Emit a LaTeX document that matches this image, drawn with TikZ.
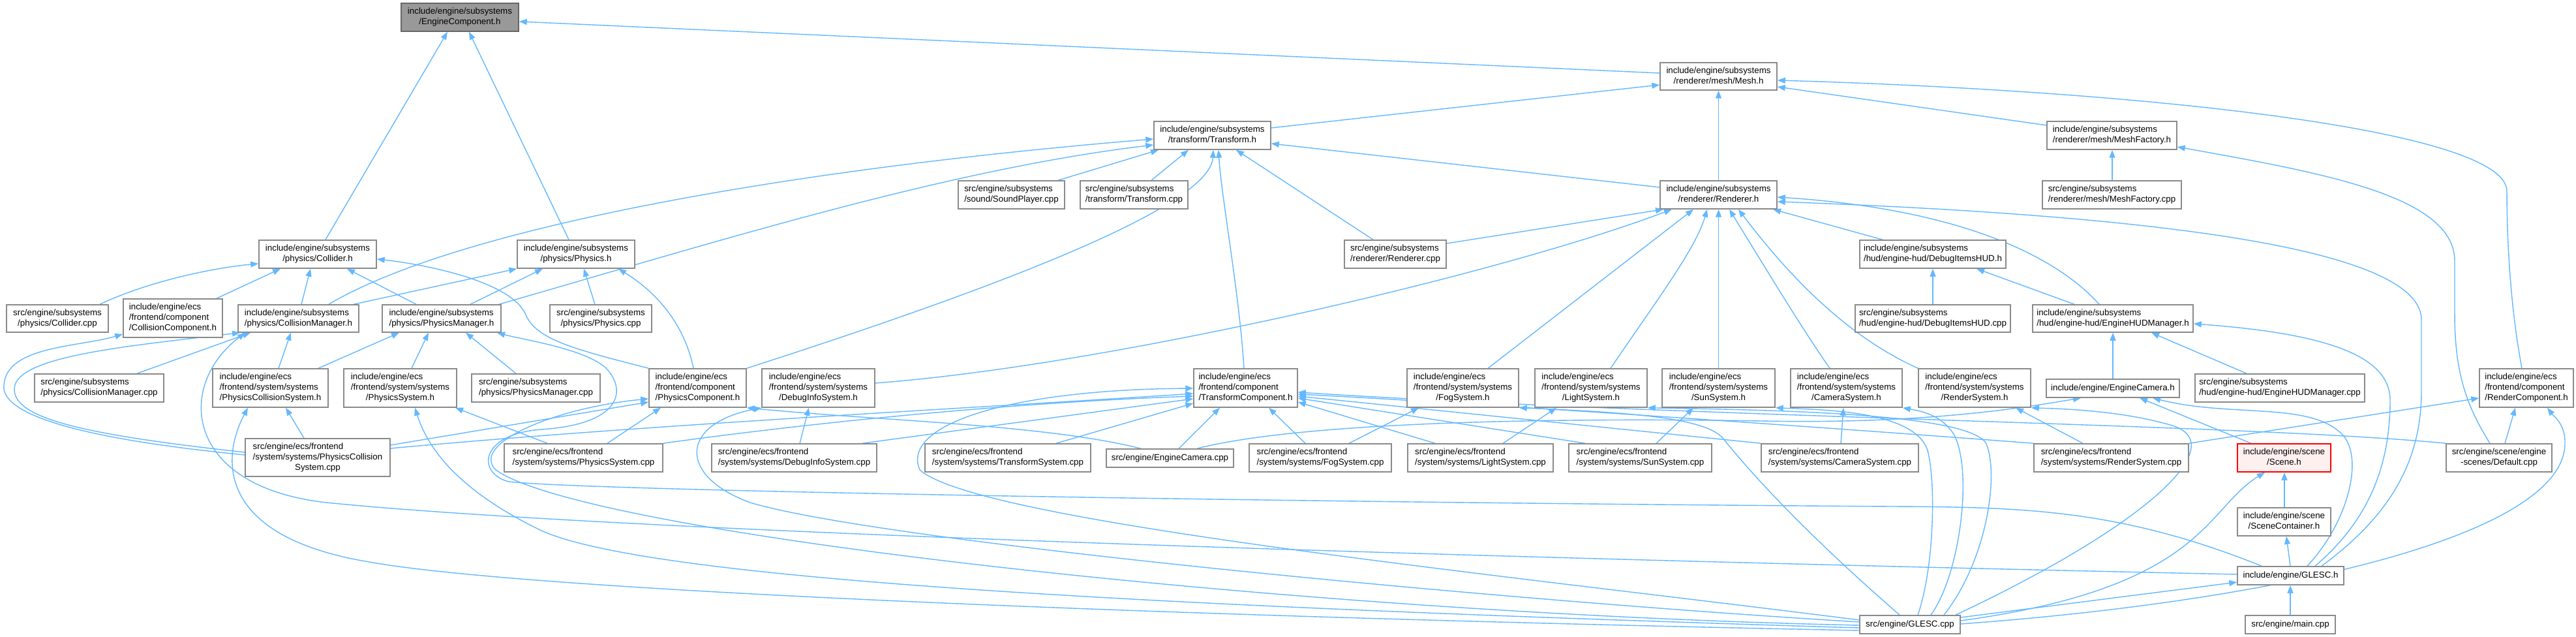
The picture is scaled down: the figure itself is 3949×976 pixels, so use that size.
\documentclass[tikz,border=0pt]{standalone}
\usepackage{fontspec}
\setmainfont{Liberation Sans}
\usetikzlibrary{arrows.meta}
\pgfdeclarelayer{background}
\pgfsetlayers{background,main}
\definecolor{edgec}{HTML}{63B8FF}
\definecolor{boxc}{HTML}{8A8A8A}
\newcommand\dl[2]{\begin{tabular}{@{}l@{}}#1\\\multicolumn{1}{@{}c@{}}{#2}\end{tabular}}
\newcommand\nd[7][dbox]{\node[#1,minimum width={#5pt-#3pt},minimum height={#6pt-#4pt}] (#2) at ({(#3+#5)/2},{(#4+#6)/2}) {#7};}
\tikzset{
  dbox/.style={rectangle,draw=boxc,line width=1.5pt,fill=white,inner sep=0pt,text=black,font=\fontsize{13.33}{16}\selectfont},
  ecbox/.style={dbox,draw=black!60,fill=black!40},
  redbox/.style={dbox,draw=red,fill={rgb,255:red,255;green,240;blue,240}},
  dedge/.style={draw=edgec,line width=1.4pt,-{Triangle[length=12pt,width=9pt]}}
}
\begin{document}
\begin{tikzpicture}[x=1pt,y=-1pt]
\useasboundingbox (0,0) rectangle (3949,976);
% ---------------- nodes ----------------
\nd[ecbox]{EC}{615}{5}{795}{48}{\dl{include/engine/subsystems}{/EngineComponent.h}}
\nd{MESH}{2545}{96}{2724}{138}{\dl{include/engine/subsystems}{/renderer/mesh/Mesh.h}}
\nd{TR}{1769}{186}{1948}{229}{\dl{include/engine/subsystems}{/transform/Transform.h}}
\nd{MF}{3138}{186}{3337}{229}{\dl{include/engine/subsystems}{/renderer/mesh/MeshFactory.h}}
\nd{SND}{1469}{277}{1632}{320}{\dl{src/engine/subsystems}{/sound/SoundPlayer.cpp}}
\nd{TRC}{1656}{277}{1821}{320}{\dl{src/engine/subsystems}{/transform/Transform.cpp}}
\nd{REN}{2545}{277}{2724}{320}{\dl{include/engine/subsystems}{/renderer/Renderer.h}}
\nd{MFC}{3131}{277}{3344}{320}{\dl{src/engine/subsystems}{/renderer/mesh/MeshFactory.cpp}}
\nd{COL}{397}{368}{577}{411}{\dl{include/engine/subsystems}{/physics/Collider.h}}
\nd{PHY}{793}{368}{973}{411}{\dl{include/engine/subsystems}{/physics/Physics.h}}
\nd{RENC}{2061}{368}{2217}{411}{\dl{src/engine/subsystems}{/renderer/Renderer.cpp}}
\nd{DIH}{2851}{368}{3075}{411}{\dl{include/engine/subsystems}{/hud/engine-hud/DebugItemsHUD.h}}
\nd{COLC}{10}{467}{166}{509}{\dl{src/engine/subsystems}{/physics/Collider.cpp}}
\nd{CC}{189}{458}{341}{517}{\dl{include/engine/ecs\\/frontend/component}{/CollisionComponent.h}}
\nd{CM}{365}{467}{550}{509}{\dl{include/engine/subsystems}{/physics/CollisionManager.h}}
\nd{PM}{586}{467}{768}{509}{\dl{include/engine/subsystems}{/physics/PhysicsManager.h}}
\nd{PHYC}{843}{467}{999}{509}{\dl{src/engine/subsystems}{/physics/Physics.cpp}}
\nd{DIHC}{2844}{467}{3082}{509}{\dl{src/engine/subsystems}{/hud/engine-hud/DebugItemsHUD.cpp}}
\nd{HUD}{3116}{467}{3362}{509}{\dl{include/engine/subsystems}{/hud/engine-hud/EngineHUDManager.h}}
\nd{CMC}{53}{573}{251}{616}{\dl{src/engine/subsystems}{/physics/CollisionManager.cpp}}
\nd{PCS}{326}{565}{503}{624}{\dl{include/engine/ecs\\/frontend/system/systems}{/PhysicsCollisionSystem.h}}
\nd{PS}{527}{565}{700}{624}{\dl{include/engine/ecs\\/frontend/system/systems}{/PhysicsSystem.h}}
\nd{PMC}{723}{573}{920}{616}{\dl{src/engine/subsystems}{/physics/PhysicsManager.cpp}}
\nd{PCOMP}{995}{565}{1144}{624}{\dl{include/engine/ecs\\/frontend/component}{/PhysicsComponent.h}}
\nd{DIS}{1168}{565}{1341}{624}{\dl{include/engine/ecs\\/frontend/system/systems}{/DebugInfoSystem.h}}
\nd{TCOMP}{1830}{565}{1989}{624}{\dl{include/engine/ecs\\/frontend/component}{/TransformComponent.h}}
\nd{FOG}{2157}{565}{2328}{624}{\dl{include/engine/ecs\\/frontend/system/systems}{/FogSystem.h}}
\nd{LIGHT}{2353}{565}{2525}{624}{\dl{include/engine/ecs\\/frontend/system/systems}{/LightSystem.h}}
\nd{SUN}{2548}{565}{2721}{624}{\dl{include/engine/ecs\\/frontend/system/systems}{/SunSystem.h}}
\nd{CAM}{2745}{565}{2916}{624}{\dl{include/engine/ecs\\/frontend/system/systems}{/CameraSystem.h}}
\nd{RS}{2941}{565}{3113}{624}{\dl{include/engine/ecs\\/frontend/system/systems}{/RenderSystem.h}}
\nd{ECAM}{3137}{581}{3341}{609}{include/engine/EngineCamera.h}
\nd{HUDC}{3365}{573}{3625}{616}{\dl{src/engine/subsystems}{/hud/engine-hud/EngineHUDManager.cpp}}
\nd{RCOMP}{3801}{565}{3945}{624}{\dl{include/engine/ecs\\/frontend/component}{/RenderComponent.h}}
\nd{PCSC}{376}{672}{598}{730}{\dl{src/engine/ecs/frontend\\/system/systems/PhysicsCollision}{System.cpp}}
\nd{PSC}{773}{680}{1016}{723}{\dl{src/engine/ecs/frontend}{/system/systems/PhysicsSystem.cpp}}
\nd{DISC}{1091}{680}{1344}{723}{\dl{src/engine/ecs/frontend}{/system/systems/DebugInfoSystem.cpp}}
\nd{TSC}{1418}{680}{1672}{723}{\dl{src/engine/ecs/frontend}{/system/systems/TransformSystem.cpp}}
\nd{ECAMC}{1696}{688}{1891}{716}{src/engine/EngineCamera.cpp}
\nd{FOGC}{1915}{680}{2133}{723}{\dl{src/engine/ecs/frontend}{/system/systems/FogSystem.cpp}}
\nd{LIGHTC}{2158}{680}{2381}{723}{\dl{src/engine/ecs/frontend}{/system/systems/LightSystem.cpp}}
\nd{SUNC}{2405}{680}{2624}{723}{\dl{src/engine/ecs/frontend}{/system/systems/SunSystem.cpp}}
\nd{CAMC}{2700}{680}{2941}{723}{\dl{src/engine/ecs/frontend}{/system/systems/CameraSystem.cpp}}
\nd{RSC}{3118}{680}{3355}{723}{\dl{src/engine/ecs/frontend}{/system/systems/RenderSystem.cpp}}
\nd[redbox]{SCENE}{3430}{680}{3573}{723}{\dl{include/engine/scene}{/Scene.h}}
\nd{DEF}{3750}{680}{3912}{723}{\dl{src/engine/scene/engine}{-scenes/Default.cpp}}
\nd{SC}{3430}{778}{3573}{821}{\dl{include/engine/scene}{/SceneContainer.h}}
\nd{GLH}{3430}{868}{3593}{896}{include/engine/GLESC.h}
\nd{GLC}{2851}{943}{3005}{971}{src/engine/GLESC.cpp}
\nd{MAIN}{3442}{943}{3580}{971}{src/engine/main.cpp}
% ---------------- edges ----------------
\begin{pgfonlayer}{background}
\fill[white] (0,0) rectangle (3949,976);
% to EngineComponent
\draw[dedge] (COL.north -| 499,0) -- (EC.south -| 686,0);
\draw[dedge] (PHY.north -| 872,0) -- (EC.south -| 719,0);
\draw[dedge] (MESH.west |- 0,112) -- (EC.east |- 0,33);
% to Mesh
\draw[dedge] (TR.east |- 0,196) -- (MESH.west |- 0,130);
\draw[dedge] (REN.north) -- (MESH.south);
\draw[dedge] (MF.west |- 0,192) -- (MESH.east |- 0,133);
\draw[dedge] (RCOMP.north -| 3866,0) .. controls (3850,480) and (3843,380) .. (3843,293) .. controls (3843,200) and (3300,140) .. (MESH.east |- 0,123);
% to MeshFactory
\draw[dedge] (MFC.north -| 3238,0) -- (MF.south -| 3238,0);
\draw[dedge] (DEF.north -| 3817,0) .. controls (3780,620) and (3763,570) .. (3763,480) -- (3763,400) .. controls (3763,300) and (3560,265) .. (MF.east |- 0,225);
% to Transform
\draw[dedge] (REN.west |- 0,287) -- (TR.east |- 0,220);
\draw[dedge] (SND.north -| 1622,0) -- (TR.south -| 1776,0);
\draw[dedge] (TRC.north -| 1765,0) -- (TR.south -| 1822,0);
\draw[dedge] (RENC.north -| 2105,0) -- (TR.south -| 1895,0);
\draw[dedge] (CM.north -| 504,0) .. controls (700,350) and (1200,260) .. (TR.west |- 0,213);
\draw[dedge] (PM.north -| 765,0) .. controls (1100,370) and (1450,260) .. (TR.west |- 0,222);
\draw[dedge] (PCOMP.north east) .. controls (1500,450) and (1855,320) .. (TR.south -| 1860,0);
\draw[dedge] (TCOMP.north -| 1907,0) .. controls (1900,450) and (1872,300) .. (TR.south -| 1868,0);
% to Renderer
\draw[dedge] (RENC.east |- 0,373) -- (REN.south -| 2550,0);
\draw[dedge] (DIH.north -| 2886,0) -- (REN.south -| 2718,0);
\draw[dedge] (HUD.north -| 3218,0) .. controls (3150,390) and (3000,320) .. (REN.east |- 0,302);
\draw[dedge] (GLH.north -| 3559,0) .. controls (3650,800) and (3712,720) .. (3712,600) -- (3712,490) .. controls (3712,380) and (3300,330) .. (REN.east |- 0,309);
\draw[dedge] (FOG.north -| 2281,0) -- (REN.south -| 2596,0);
\draw[dedge] (LIGHT.north -| 2469,0) .. controls (2540,460) and (2600,380) .. (REN.south -| 2617,0);
\draw[dedge] (SUN.north) -- (REN.south);
\draw[dedge] (CAM.north -| 2805,0) .. controls (2760,500) and (2700,400) .. (REN.south -| 2651,0);
\draw[dedge] (RS.north west) .. controls (2830,515) and (2740,420) .. (REN.south -| 2665,0);
\draw[dedge] (DIS.east |- 0,587) .. controls (1700,560) and (2300,420) .. (REN.south -| 2563,0);
% HUD
\draw[dedge] (ECAM.north) -- (HUD.south);
\draw[dedge] (HUDC.north -| 3444,0) -- (HUD.south -| 3298,0);
\draw[dedge] (GLH.north -| 3549,0) .. controls (3640,790) and (3664,700) .. (3664,613) .. controls (3664,540) and (3550,510) .. (HUD.east |- 0,496);
\draw[dedge] (HUD.north -| 3180,0) -- (DIH.south -| 3030,0);
\draw[dedge] (DIHC.north -| 2963,0) -- (DIH.south -| 2963,0);
% EngineCamera, Scene
\draw[dedge] (SCENE.north -| 3451,0) -- (ECAM.south -| 3280,0);
\draw[dedge] (GLH.north -| 3537,0) .. controls (3600,800) and (3625,700) .. (3590,665) .. controls (3540,615) and (3420,640) .. (ECAM.south -| 3300,0);
\draw[dedge] (GLH.north -| 3511,0) -- (SC.south -| 3505,0);
\draw[dedge] (SC.north -| 3502,0) -- (SCENE.south -| 3502,0);
\draw[dedge] (MAIN.north -| 3511,0) -- (GLH.south -| 3511,0);
% from GLESC.cpp
\draw[dedge] (GLC.east |- 0,946) -- (GLH.west |- 0,892);
\draw[dedge] (GLC.east |- 0,951) .. controls (3380,900) and (3380,780) .. (SCENE.south -| 3472,0);
\draw[dedge] (GLC.east |- 0,956) .. controls (3500,920) and (3930,820) .. (3932,680) .. controls (3933,650) and (3915,638) .. (RCOMP.south -| 3905,0);
\draw[dedge] (GLC.north -| 2998,0) .. controls (3300,800) and (3420,680) .. (3330,652) .. controls (3250,628) and (3150,626) .. (RS.south east);
\draw[dedge] (GLC.north -| 2960,0) .. controls (3005,880) and (3025,720) .. (2995,665) .. controls (2975,635) and (2945,630) .. (CAM.south east);
\draw[dedge] (GLC.north -| 2940,0) .. controls (2965,870) and (2968,740) .. (2955,690) .. controls (2935,630) and (2800,628) .. (SUN.south east);
\draw[dedge] (GLC.north -| 2980,0) .. controls (3045,860) and (3065,730) .. (3045,680) .. controls (3020,632) and (2700,628) .. (LIGHT.south east);
\draw[dedge] (GLC.north -| 2912,0) .. controls (2760,810) and (2680,720) .. (2640,670) .. controls (2610,640) and (2500,632) .. (FOG.south east);
\draw[dedge] (GLC.west |- 0,950) .. controls (2300,880) and (1500,800) .. (1410,720) .. controls (1380,650) and (1550,597) .. (TCOMP.west |- 0,595);
\draw[dedge] (GLC.west |- 0,953) .. controls (2300,920) and (1350,830) .. (1150,770) .. controls (1040,730) and (1040,650) .. (DIS.south west);
\draw[dedge] (GLC.west |- 0,958) .. controls (2000,940) and (900,820) .. (760,720) .. controls (720,680) and (850,625) .. (PCOMP.west |- 0,611);
\draw[dedge] (GLC.west |- 0,962) .. controls (1800,930) and (1000,890) .. (830,813) .. controls (720,760) and (660,700) .. (PS.south -| 636,0);
\draw[dedge] (GLC.west |- 0,966) .. controls (1800,945) and (800,905) .. (560,860) .. controls (330,820) and (340,700) .. (PCS.south -| 380,0);
% from GLESC.h to physics
\draw[dedge] (GLH.west |- 0,880) .. controls (2500,860) and (1000,820) .. (500,770) .. controls (280,745) and (270,590) .. (CM.south -| 376,0);
\draw[dedge] (GLH.north -| 3467,0) .. controls (3250,780) and (3100,777) .. (2900,776) .. controls (2000,770) and (900,752) .. (780,738) .. controls (730,725) and (735,665) .. (830,658) .. controls (950,650) and (962,600) .. (930,565) .. controls (900,535) and (800,520) .. (PM.south -| 762,0);
% PhysicsCollisionSystem.cpp
\draw[dedge] (PCSC.west |- 0,697) .. controls (150,675) and (0,640) .. (6,590) .. controls (10,530) and (120,532) .. (CC.west |- 0,512);
\draw[dedge] (PCSC.west |- 0,693) .. controls (120,665) and (20,640) .. (22,595) .. controls (25,545) and (200,530) .. (CM.south -| 368,0);
\draw[dedge] (PCSC.north -| 466,0) -- (PCS.south -| 438,0);
\draw[dedge] (PCSC.east |- 0,682) -- (PCOMP.west |- 0,616);
\draw[dedge] (PCSC.east |- 0,687) .. controls (1000,650) and (1500,625) .. (TCOMP.west |- 0,603);
% PhysicsSystem.cpp
\draw[dedge] (PSC.north -| 839,0) -- (PS.south -| 698,0);
\draw[dedge] (PSC.north -| 931,0) -- (PCOMP.south -| 1013,0);
\draw[dedge] (PSC.north east) .. controls (1300,640) and (1600,615) .. (TCOMP.west |- 0,607);
% DebugInfoSystem.cpp, TransformSystem.cpp, EngineCamera.cpp
\draw[dedge] (DISC.north -| 1226,0) -- (DIS.south -| 1240,0);
\draw[dedge] (DISC.north -| 1322,0) -- (TCOMP.west |- 0,611);
\draw[dedge] (TSC.north -| 1619,0) -- (TCOMP.west |- 0,618);
\draw[dedge] (ECAMC.north -| 1807,0) -- (TCOMP.south -| 1870,0);
\draw[dedge] (ECAMC.north -| 1749,0) .. controls (1600,650) and (1350,645) .. (PCOMP.south east);
\draw[dedge] (ECAMC.north -| 1835,0) .. controls (2000,645) and (2400,640) .. (2700,645) .. controls (2950,650) and (3100,625) .. (ECAM.south -| 3190,0);
% systems .cpp
\draw[dedge] (FOGC.north -| 2068,0) -- (FOG.south -| 2175,0);
\draw[dedge] (FOGC.north -| 2001,0) -- (TCOMP.south -| 1945,0);
\draw[dedge] (LIGHTC.north -| 2304,0) -- (LIGHT.south -| 2386,0);
\draw[dedge] (LIGHTC.north -| 2200,0) -- (TCOMP.east |- 0,616);
\draw[dedge] (SUNC.north -| 2539,0) -- (SUN.south -| 2596,0);
\draw[dedge] (SUNC.north -| 2430,0) -- (TCOMP.east |- 0,610);
\draw[dedge] (CAMC.north -| 2822,0) -- (CAM.south -| 2826,0);
\draw[dedge] (CAMC.north west) -- (TCOMP.east |- 0,607);
\draw[dedge] (RSC.north -| 3193,0) -- (RS.south -| 3090,0);
\draw[dedge] (RSC.north west) .. controls (2800,655) and (2300,620) .. (TCOMP.east |- 0,604);
\draw[dedge] (RSC.north east) -- (RCOMP.west |- 0,610);
\draw[dedge] (DEF.north west) .. controls (3450,650) and (2600,640) .. (TCOMP.east |- 0,601);
\draw[dedge] (DEF.north -| 3840,0) -- (RCOMP.south -| 3856,0);
% physics layer
\draw[dedge] (CM.north -| 462,0) -- (COL.south -| 476,0);
\draw[dedge] (CM.north -| 542,0) -- (PHY.south west);
\draw[dedge] (PM.north -| 638,0) -- (COL.south -| 532,0);
\draw[dedge] (PM.north -| 721,0) -- (PHY.south -| 832,0);
\draw[dedge] (PHYC.north -| 912,0) -- (PHY.south -| 895,0);
\draw[dedge] (COLC.north -| 153,0) .. controls (230,430) and (330,410) .. (COL.west |- 0,404);
\draw[dedge] (CC.north -| 332,0) -- (COL.south -| 430,0);
\draw[dedge] (PCOMP.north west) .. controls (880,535) and (820,520) .. (805,480) .. controls (780,430) and (650,405) .. (COL.east |- 0,397);
\draw[dedge] (PCOMP.north -| 1063,0) .. controls (1050,500) and (1010,450) .. (PHY.south -| 948,0);
\draw[dedge] (CMC.north -| 210,0) -- (CM.south -| 384,0);
\draw[dedge] (PCS.north -| 427,0) -- (CM.south -| 446,0);
\draw[dedge] (PCS.north -| 488,0) -- (PM.south -| 612,0);
\draw[dedge] (PS.north -| 631,0) -- (PM.south -| 657,0);
\draw[dedge] (PMC.north -| 791,0) -- (PM.south -| 714,0);
\end{pgfonlayer}
\end{tikzpicture}
\end{document}
